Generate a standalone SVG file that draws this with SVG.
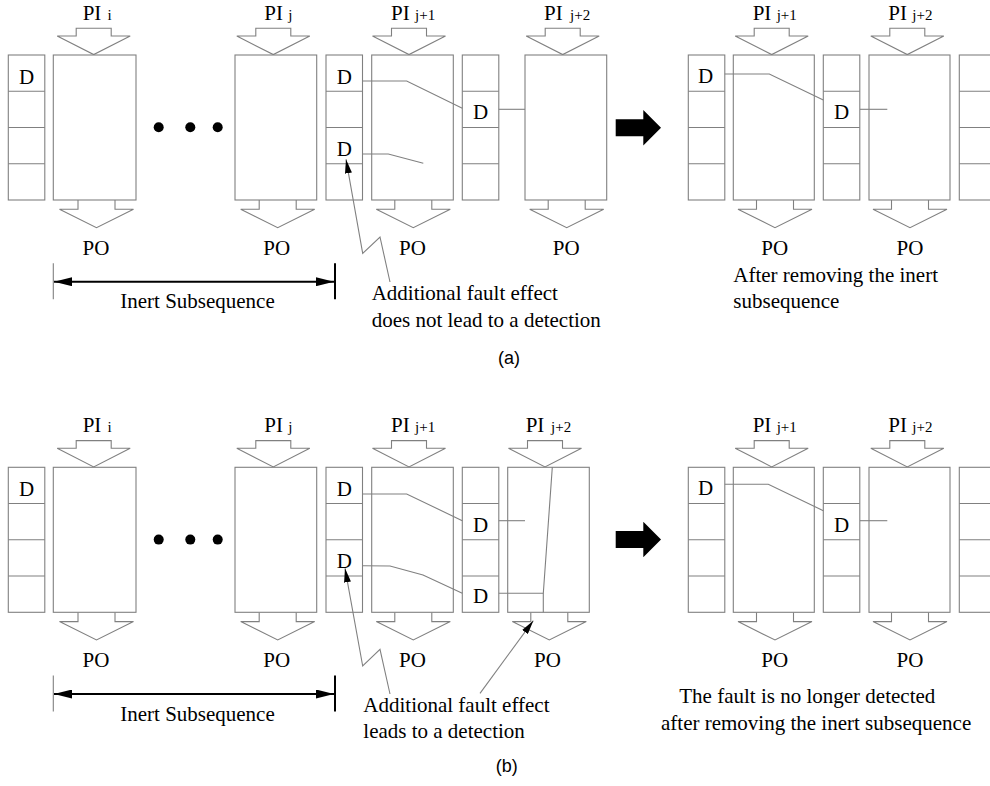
<svg xmlns="http://www.w3.org/2000/svg" width="990" height="786" viewBox="0 0 990 786">
<style>
.box{fill:#fff;stroke:#808080;stroke-width:1.1}
.arr{fill:none;stroke:#808080;stroke-width:1.1}
.ln{fill:none;stroke:#808080;stroke-width:1.1}
.blk{fill:none;stroke:#000;stroke-width:2}
.t{font-family:"Liberation Serif","Times New Roman",serif;font-size:21px;fill:#000}
.s{font-family:"Liberation Serif","Times New Roman",serif;font-size:15px;fill:#000}
.d{font-family:"Liberation Serif","Times New Roman",serif;font-size:21px;fill:#000;text-anchor:middle}
.m{text-anchor:middle}
.cap{font-family:"Liberation Sans",Arial,sans-serif;font-size:18px;fill:#000;text-anchor:middle}
.fill{fill:#000}
</style>
<defs>
<g id="col"><rect class="box" x="0" y="0" width="36.5" height="145"/><path class="ln" d="M0,36.25H36.5M0,72.5H36.5M0,108.75H36.5"/></g>
<path id="pi" class="arr" d="M-17.5,0H17.5V7.7H36.5L0,26.3L-36.5,7.7H-17.5Z"/>
<path id="po" class="arr" d="M-18.5,0V9.3H-37L0,27.7L37,9.3H18.5V0"/>
<path id="bigarrow" class="fill" d="M0,-8.5H27.6V-17.8L45.3,0L27.6,17.8V8.5H0Z"/>
<marker id="ah" markerUnits="userSpaceOnUse" viewBox="0 0 18 9" refX="18" refY="4.5" markerWidth="18" markerHeight="9" orient="auto-start-reverse"><path d="M0,0L18,4.5L0,9Z" fill="#000"/></marker>
<marker id="pa" markerUnits="userSpaceOnUse" viewBox="0 0 14 7" refX="14" refY="3.5" markerWidth="14" markerHeight="7" orient="auto"><path d="M0,0L14,3.5L0,7Z" fill="#000"/></marker>
</defs>

<!-- ===== (a) ===== -->
<g id="a-col1"><use href="#col" x="8.3" y="55"/><text class="d" x="26.5" y="83.5">D</text></g>
<g id="a-blk-i"><use href="#pi" x="93.7" y="28.3"/><use href="#po" x="96.5" y="200"/><rect class="box" x="53.3" y="55" width="82.7" height="145"/><text class="t" x="82.7" y="20">PI</text><text class="s" x="107.5" y="20">i</text><text class="t m" x="96" y="255">PO</text></g>
<g id="a-dots"><circle class="fill" cx="158.7" cy="127.3" r="5"/><circle class="fill" cx="190.3" cy="127.3" r="5"/><circle class="fill" cx="217.7" cy="127.3" r="5"/></g>
<g id="a-blk-j"><use href="#pi" x="273.3" y="28.3"/><use href="#po" x="277.7" y="200"/><rect class="box" x="235" y="55" width="81.7" height="145"/><text class="t" x="264.3" y="20">PI</text><text class="s" x="288.3" y="20">j</text><text class="t m" x="276.7" y="255">PO</text></g>
<g id="a-col2"><use href="#col" x="326" y="55"/><text class="d" x="344.3" y="83.5">D</text><text class="d" x="344.3" y="155.5">D</text></g>
<g id="a-blk-j1"><use href="#pi" x="409" y="28.3"/><use href="#po" x="413.3" y="200"/><rect class="box" x="371.7" y="55" width="81.6" height="145"/><text class="t" x="391" y="20">PI</text><text class="s" x="415" y="20">j+1</text><text class="t m" x="412.5" y="255">PO</text></g>
<g id="a-col3"><use href="#col" x="462.3" y="55"/><text class="d" x="480.5" y="119.3">D</text></g>
<g id="a-blk-j2"><use href="#pi" x="562.7" y="28.3"/><use href="#po" x="566.7" y="200"/><rect class="box" x="525" y="55" width="81.7" height="145"/><text class="t" x="544" y="20">PI</text><text class="s" x="570" y="20">j+2</text><text class="t m" x="566.3" y="255">PO</text></g>
<g id="a-arrow"><use href="#bigarrow" x="615.7" y="127.8"/></g>
<g id="a-rcol1"><use href="#col" x="688.3" y="55"/><text class="d" x="705.5" y="82.5">D</text></g>
<g id="a-rblk1"><use href="#pi" x="771.7" y="28.3"/><use href="#po" x="775" y="200"/><rect class="box" x="733.3" y="55" width="81" height="145"/><text class="t" x="752.7" y="20">PI</text><text class="s" x="776.7" y="20">j+1</text><text class="t m" x="774.7" y="255">PO</text></g>
<g id="a-rcol2"><use href="#col" x="823.3" y="55"/><text class="d" x="841.5" y="119.3">D</text></g>
<g id="a-rblk2"><use href="#pi" x="907.3" y="28.3"/><use href="#po" x="910" y="200"/><rect class="box" x="869" y="55" width="81" height="145"/><text class="t" x="888.3" y="20">PI</text><text class="s" x="912.3" y="20">j+2</text><text class="t m" x="910" y="255">PO</text></g>
<g id="a-rcol3"><use href="#col" x="959.3" y="55"/></g>
<g id="a-labels">
<text class="t m" x="197.5" y="308.3">Inert Subsequence</text>
<text class="t" x="371.7" y="300">Additional fault effect</text>
<text class="t" x="371.7" y="326.7">does not lead to a detection</text>
<text class="t" x="733.3" y="281.7">After removing the inert</text>
<text class="t" x="733.3" y="308.3">subsequence</text>
<text class="cap" x="509" y="364">(a)</text>
</g>

<!-- ===== (b) ===== -->
<g id="b-col1"><use href="#col" x="8.3" y="467.3"/><text class="d" x="26.5" y="495.8">D</text></g>
<g id="b-blk-i"><use href="#pi" x="93.7" y="440.6"/><use href="#po" x="96.5" y="612.3"/><rect class="box" x="53.3" y="467.3" width="82.7" height="145"/><text class="t" x="82.7" y="431.5">PI</text><text class="s" x="107.5" y="431.5">i</text><text class="t m" x="96" y="667">PO</text></g>
<g id="b-dots"><circle class="fill" cx="158.7" cy="539.6" r="5"/><circle class="fill" cx="190.3" cy="539.6" r="5"/><circle class="fill" cx="217.7" cy="539.6" r="5"/></g>
<g id="b-blk-j"><use href="#pi" x="273.3" y="440.6"/><use href="#po" x="277.7" y="612.3"/><rect class="box" x="235" y="467.3" width="81.7" height="145"/><text class="t" x="264.3" y="431.5">PI</text><text class="s" x="288.3" y="431.5">j</text><text class="t m" x="276.7" y="667">PO</text></g>
<g id="b-col2"><use href="#col" x="326" y="467.3"/><text class="d" x="344.3" y="495.8">D</text><text class="d" x="344.3" y="567.8">D</text></g>
<g id="b-blk-j1"><use href="#pi" x="409" y="440.6"/><use href="#po" x="413.3" y="612.3"/><rect class="box" x="371.7" y="467.3" width="81.6" height="145"/><text class="t" x="391" y="431.5">PI</text><text class="s" x="415" y="431.5">j+1</text><text class="t m" x="412.5" y="667">PO</text></g>
<g id="b-col3"><use href="#col" x="462.3" y="467.3"/><text class="d" x="480.5" y="531.6">D</text><text class="d" x="480.5" y="603">D</text></g>
<g id="b-blk-j2"><use href="#pi" x="545" y="440.6"/><use href="#po" x="549.3" y="612.3"/><rect class="box" x="507.7" y="467.3" width="81.6" height="145"/><text class="t" x="525.7" y="431.5">PI</text><text class="s" x="551" y="431.5">j+2</text><text class="t m" x="547.5" y="667">PO</text></g>
<g id="b-arrow"><use href="#bigarrow" x="615.7" y="539.5"/></g>
<g id="b-rcol1"><use href="#col" x="688.3" y="467.3"/><text class="d" x="705.5" y="494.8">D</text></g>
<g id="b-rblk1"><use href="#pi" x="771.7" y="440.6"/><use href="#po" x="775" y="612.3"/><rect class="box" x="733.3" y="467.3" width="81" height="145"/><text class="t" x="752.7" y="431.5">PI</text><text class="s" x="776.7" y="431.5">j+1</text><text class="t m" x="774.7" y="667">PO</text></g>
<g id="b-rcol2"><use href="#col" x="823.3" y="467.3"/><text class="d" x="841.5" y="531.6">D</text></g>
<g id="b-rblk2"><use href="#pi" x="907.3" y="440.6"/><use href="#po" x="910" y="612.3"/><rect class="box" x="869" y="467.3" width="81" height="145"/><text class="t" x="888.3" y="431.5">PI</text><text class="s" x="912.3" y="431.5">j+2</text><text class="t m" x="910" y="667">PO</text></g>
<g id="b-rcol3"><use href="#col" x="959.3" y="467.3"/></g>
<g id="b-labels">
<text class="t m" x="197.5" y="720.6">Inert Subsequence</text>
<text class="t" x="363.3" y="711.7">Additional fault effect</text>
<text class="t" x="363.3" y="738.3">leads to a detection</text>
<text class="t" x="679.3" y="703.3">The fault is no longer detected</text>
<text class="t" x="661" y="730">after removing the inert subsequence</text>
<text class="cap" x="506.7" y="772">(b)</text>
</g>

<!-- ===== connectors ===== -->
<g id="connectors">
<polyline class="ln" points="362.7,81 406.7,81 462.3,108.3"/>
<polyline class="ln" points="362.7,154 388.3,154 423.3,163.3"/>
<line class="ln" x1="498.8" y1="109.3" x2="525" y2="109.3"/>
<polyline class="ln" points="724.8,74 769.3,74 823.3,100"/>
<line class="ln" x1="860" y1="109.3" x2="887.3" y2="109.3"/>
<polyline class="ln" points="390,282 380,237 362.7,253.3 346,159.3" marker-end="url(#pa)"/>
<line class="ln" x1="53.3" y1="263.3" x2="53.3" y2="299.3"/>
<line class="blk" x1="335" y1="263.3" x2="335" y2="299.3"/>
<line class="blk" x1="54" y1="281.7" x2="334" y2="281.7" marker-start="url(#ah)" marker-end="url(#ah)"/>

<polyline class="ln" points="362.7,494 406.7,494 462.3,520.7"/>
<polyline class="ln" points="362.7,565.7 390,566 423,575 462.3,593.3"/>
<line class="ln" x1="498.8" y1="520.7" x2="525" y2="520.7"/>
<line class="ln" x1="498.8" y1="593.3" x2="543.3" y2="593.3"/>
<polyline class="ln" points="552.3,467.3 543.3,593.3 543.3,612.3"/>
<polyline class="ln" points="724.8,484.3 768.3,484.3 823.3,510.7"/>
<line class="ln" x1="860" y1="520.7" x2="887.3" y2="520.7"/>
<polyline class="ln" points="390,694 380,649.3 362.7,666 345,568.3" marker-end="url(#pa)"/>
<line class="ln" x1="480" y1="693.3" x2="533.3" y2="620.7" marker-end="url(#pa)"/>
<line class="ln" x1="53.3" y1="675.6" x2="53.3" y2="711.6"/>
<line class="blk" x1="335" y1="675.6" x2="335" y2="711.6"/>
<line class="blk" x1="54" y1="694" x2="334" y2="694" marker-start="url(#ah)" marker-end="url(#ah)"/>
</g>
</svg>
